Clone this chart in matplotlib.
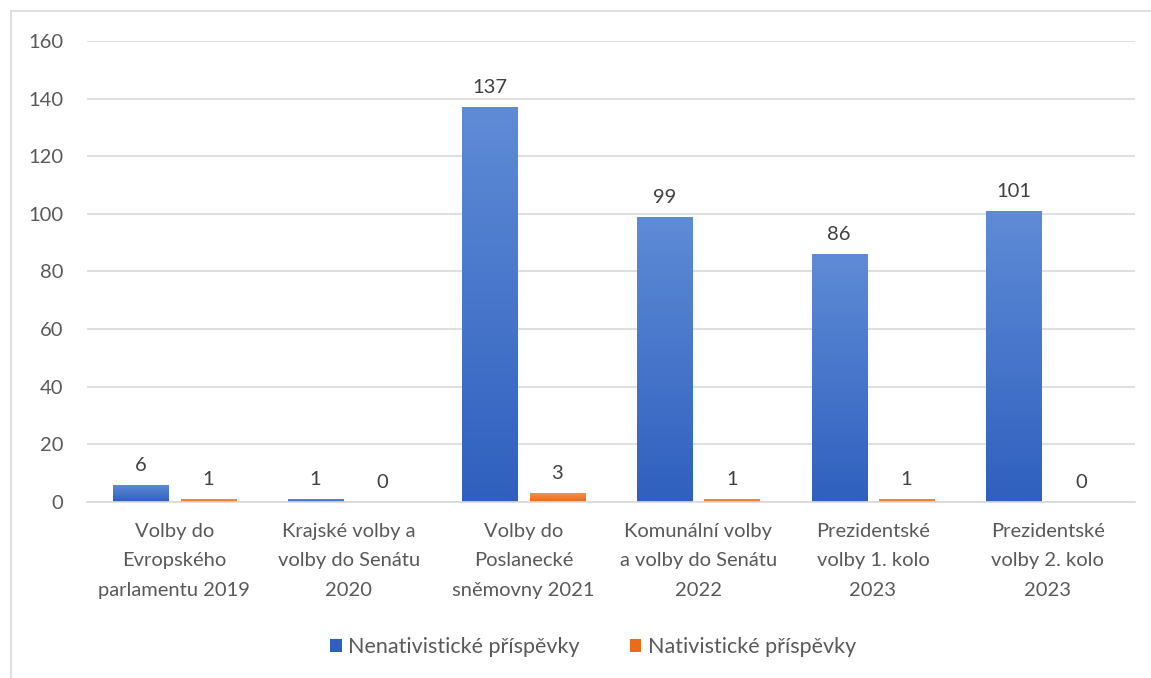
import numpy as np
import matplotlib
matplotlib.use('Agg')
import matplotlib.pyplot as plt
from matplotlib.patches import Rectangle
from matplotlib.colors import LinearSegmentedColormap

plt.rcParams['font.family'] = ['Lato', 'DejaVu Sans']

categories = ['Volby do\nEvropského\nparlamentu 2019',
              'Krajské volby a\nvolby do Senátu\n2020',
              'Volby do\nPoslanecké\nsněmovny 2021',
              'Komunální volby\na volby do Senátu\n2022',
              'Prezidentské\nvolby 1. kolo\n2023',
              'Prezidentské\nvolby 2. kolo\n2023']
nenativ = [6, 1, 137, 99, 86, 101]
nativ = [1, 0, 3, 1, 1, 0]
series_names = ['Nenativistické příspěvky', 'Nativistické příspěvky']

txt = '#595959'
fs = 14.5
fig = plt.figure(figsize=(11.51, 6.78), dpi=100)
ax = fig.add_axes([0.0756, 0.2596, 0.9104, 0.68])

# chart border
fig.patches.append(Rectangle((11 / 1151, -0.1), 1.2, 1 - 11 / 678 + 0.1,
                             transform=fig.transFigure, fill=False,
                             edgecolor='#d9d9d9', lw=1.2))

x = np.arange(len(categories))
w = 0.315
off = 0.193

def grad_bars(xs, vals, c_top, c_bot, label):
    bars = ax.bar(xs, vals, w, color=c_bot, label=label, zorder=2)
    cmap = LinearSegmentedColormap.from_list('g', [c_bot, c_top])
    grad = np.linspace(0, 1, 256).reshape(-1, 1)
    for b, v in zip(bars, vals):
        if v <= 0:
            b.set_visible(False)
            continue
        im = ax.imshow(grad, cmap=cmap, aspect='auto', origin='lower',
                       extent=[b.get_x(), b.get_x() + b.get_width(), 0, v],
                       zorder=2.5)
        im.set_clip_path(b)
    return bars

b1 = grad_bars(x - off, nenativ, '#5f8bd6', '#2f60bf', series_names[0])
b2 = grad_bars(x + off, nativ, '#f2904f', '#e86c1a', series_names[1])

for xi, v in zip(x - off, nenativ):
    ax.annotate(str(v), (xi, v), xytext=(0, 8), textcoords='offset points',
                ha='center', va='bottom', fontsize=fs, color='#404040')
for xi, v in zip(x + off, nativ):
    ax.annotate(str(v), (xi, v), xytext=(0, 8), textcoords='offset points',
                ha='center', va='bottom', fontsize=fs, color='#404040')

ax.set_xlim(-0.5, len(categories) - 0.5)
ax.set_ylim(0, 160)
ax.set_yticks(range(0, 161, 20))
ax.set_xticks(x)
ax.set_xticklabels(categories, fontsize=fs, color=txt, linespacing=1.9)
ax.tick_params(axis='y', labelsize=fs, labelcolor=txt, length=0, pad=17)
ax.tick_params(axis='x', length=0, pad=15)
ax.grid(axis='y', color='#d9d9d9', lw=1.2, zorder=0)
ax.set_axisbelow(True)
for s in ['top', 'right', 'left']:
    ax.spines[s].set_visible(False)
ax.spines['bottom'].set_color('#d9d9d9')
ax.spines['bottom'].set_linewidth(1.2)

ax.legend(handles=[b1, b2], loc='center', bbox_to_anchor=(0.483, -0.315),
          ncol=2, frameon=False, fontsize=15.5, labelcolor=txt,
          handlelength=0.55, handleheight=0.55, handletextpad=0.3,
          columnspacing=2.3)

fig.savefig('out.png', dpi=100)
